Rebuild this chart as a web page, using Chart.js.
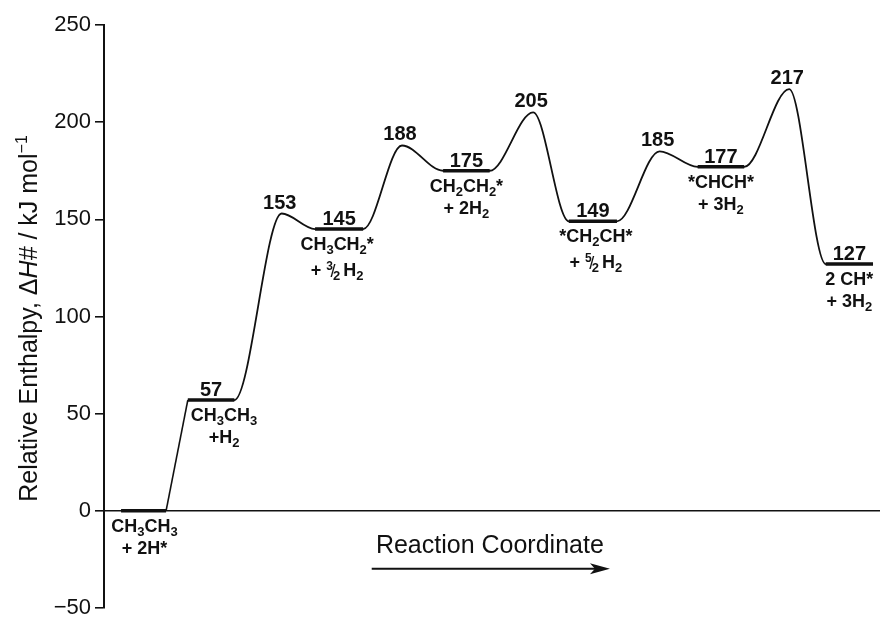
<!DOCTYPE html>
<html>
<head>
<meta charset="utf-8">
<title>Ethane dehydrogenation enthalpy profile</title>
<script src="https://cdn.jsdelivr.net/npm/chart.js@4.4.1/dist/chart.umd.min.js"></script>
<style>
  html, body { margin: 0; padding: 0; background: #fff; }
  #wrap { width: 881px; height: 617px; }
</style>
</head>
<body>
<div id="wrap"><canvas id="profile" width="881" height="617"></canvas></div>
<script>
// Intermediates (relative enthalpy, kJ/mol) and where they sit on the reaction coordinate
const levelValues = [0, 57, 145, 175, 149, 177, 127];
const levelStart  = [2.2, 10.8, 27.2, 43.7, 59.9, 76.5, 93.0];
const levelEnd    = [8.0, 16.8, 33.4, 49.7, 66.1, 82.5, 99.1];
// The reference state carries no number above its level
const levelShowValue = [false, true, true, true, true, true, true];

// Transition states between consecutive intermediates (from level 1 onward)
const barrierValues = [153, 188, 205, 185, 217];
const barrierPos    = [22.9, 38.4, 55.3, 71.6, 88.3];

// Species labels under each level ("_x" subscript, "^x" superscript, "~" fraction slash)
const speciesLine1 = ['CH_3CH_3', 'CH_3CH_3', 'CH_3CH_2*', 'CH_2CH_2*', '*CH_2CH*', '*CHCH*', '2 CH*'];
const speciesLine2 = ['+ 2H*', '+H_2', '+ ^3~_2 H_2', '+ 2H_2', '+ ^5~_2 H_2', '+ 3H_2', '+ 3H_2'];

// Axis range
const yMin = -50, yMax = 250, yStep = 50;
const xMin = 0, xMax = 100;

const FONT = '"Liberation Sans", Arial, Helvetica, sans-serif';
const INK = '#111';
const labelShift = [1, 13, -2, 0, 3, 0, 0]; // horizontal nudge of species labels (px)

// Plateau segments, separated by gaps
const plateauData = [];
levelValues.forEach((v, i) => {
  plateauData.push({ x: levelStart[i], y: v }, { x: levelEnd[i], y: v }, { x: levelEnd[i], y: null });
});

// Direct step from level 0 to level 1
const directData = [
  { x: levelEnd[0], y: levelValues[0] },
  { x: levelStart[1], y: levelValues[1] }
];

// Smooth path through the remaining levels and barriers
const pathData = [
  { x: levelStart[1], y: levelValues[1] },
  { x: levelEnd[1], y: levelValues[1] }
];
barrierValues.forEach((b, i) => {
  pathData.push({ x: barrierPos[i], y: b });
  pathData.push({ x: levelStart[i + 2], y: levelValues[i + 2] });
  pathData.push({ x: levelEnd[i + 2], y: levelValues[i + 2] });
});

function parseRuns(str) {
  const runs = [];
  let buf = '';
  const flush = () => { if (buf) { runs.push({ t: buf, k: 'n' }); buf = ''; } };
  for (let i = 0; i < str.length; i++) {
    const c = str[i];
    if (c === '_' || c === '^') {
      flush();
      runs.push({ t: str[i + 1], k: c === '_' ? 'sub' : 'sup' });
      i++;
    } else if (c === '~') {
      flush();
      runs.push({ t: '/', k: 'slash' });
    } else {
      buf += c;
    }
  }
  flush();
  return runs;
}

function runFont(k, size) {
  if (k === 'n') return 'bold ' + size + 'px ' + FONT;
  if (k === 'slash') return size + 'px ' + FONT;
  if (k === 'sup') return 'bold ' + Math.round(size * 0.64) + 'px ' + FONT;
  return 'bold ' + Math.round(size * 0.7) + 'px ' + FONT;
}

function drawRuns(ctx, str, cx, baseline, size) {
  const runs = parseRuns(str);
  let total = 0;
  runs.forEach((r, j) => {
    ctx.font = runFont(r.k, size);
    r.w = ctx.measureText(r.t).width;
    if (r.k === 'slash') r.w -= 5;
    if (r.k === 'n' && runs[j - 1] && runs[j - 1].k === 'sub' && r.t[0] === ' ') r.w -= 2;
    total += r.w;
  });
  let x = cx - total / 2;
  runs.forEach((r, j) => {
    ctx.font = runFont(r.k, size);
    let dy = 0;
    if (r.k === 'sub') dy = 4;
    if (r.k === 'sup') dy = -6;
    if (r.k === 'slash') ctx.fillText(r.t, x - 2.5, baseline + 1);
    else if (r.k === 'n' && runs[j - 1] && runs[j - 1].k === 'sub' && r.t[0] === ' ') {
      ctx.fillText(r.t.slice(1), x + ctx.measureText(' ').width - 2, baseline);
    } else ctx.fillText(r.t, x, baseline + dy);
    x += r.w;
  });
}

const annotations = {
  id: 'annotations',
  afterDatasetsDraw(chart) {
    const ctx = chart.ctx;
    const xs = chart.scales.x, ys = chart.scales.y;
    const area = chart.chartArea;
    ctx.save();
    ctx.fillStyle = INK;
    ctx.textBaseline = 'alphabetic';
    ctx.textAlign = 'left';

    // Level values and species
    levelValues.forEach((v, i) => {
      const cx = (xs.getPixelForValue(levelStart[i]) + xs.getPixelForValue(levelEnd[i])) / 2;
      const py = ys.getPixelForValue(v);
      if (levelShowValue[i]) {
        ctx.font = 'bold 20px ' + FONT;
        ctx.textAlign = 'center';
        ctx.fillText(String(v), cx, py - 4);
        ctx.textAlign = 'left';
      }
      const lx = cx + labelShift[i];
      drawRuns(ctx, speciesLine1[i], lx, py + 21, 18);
      const gap = speciesLine2[i].indexOf('~') >= 0 ? 26 : 22;
      drawRuns(ctx, speciesLine2[i], lx, py + 21 + gap, 18);
    });

    // Barrier values
    ctx.font = 'bold 20px ' + FONT;
    ctx.textAlign = 'center';
    barrierValues.forEach((b, i) => {
      ctx.fillText(String(b), xs.getPixelForValue(barrierPos[i]) - 2, ys.getPixelForValue(b) - 5);
    });

    // Reaction coordinate caption with arrow
    const y0 = ys.getPixelForValue(0);
    const ax0 = area.left + 0.345 * (area.right - area.left);
    const ax1 = area.left + 0.652 * (area.right - area.left);
    ctx.font = '25px ' + FONT;
    ctx.fillText('Reaction Coordinate', (ax0 + ax1) / 2 - 1, y0 + 42);
    const ay = y0 + 58;
    ctx.strokeStyle = INK;
    ctx.lineWidth = 2;
    ctx.beginPath();
    ctx.moveTo(ax0, ay);
    ctx.lineTo(ax1 - 14, ay);
    ctx.stroke();
    ctx.beginPath();
    ctx.moveTo(ax1, ay);
    ctx.lineTo(ax1 - 20, ay - 5.5);
    ctx.lineTo(ax1 - 15, ay);
    ctx.lineTo(ax1 - 20, ay + 5.5);
    ctx.closePath();
    ctx.fill();

    // Y axis title
    const cy = (area.top + area.bottom) / 2 + 2;
    ctx.translate(37, cy);
    ctx.rotate(-Math.PI / 2);
    ctx.textAlign = 'left';
    const parts = [
      { t: 'Relative Enthalpy, \u0394', f: '25px ' + FONT, dy: 0 },
      { t: 'H#', f: 'italic 25px ' + FONT, dy: 0 },
      { t: ' / kJ mol', f: '25px ' + FONT, dy: 0 },
      { t: '\u22121', f: '16px ' + FONT, dy: -10 }
    ];
    let tw = 0;
    parts.forEach(p => { ctx.font = p.f; p.w = ctx.measureText(p.t).width; tw += p.w; });
    let tx = -tw / 2;
    parts.forEach(p => { ctx.font = p.f; ctx.fillText(p.t, tx, p.dy); tx += p.w; });
    ctx.restore();
  }
};

new Chart(document.getElementById('profile'), {
  type: 'line',
  data: {
    datasets: [
      { data: plateauData, borderColor: INK, borderWidth: 3.5, pointRadius: 0, tension: 0, spanGaps: false, borderCapStyle: 'butt' },
      { data: directData, borderColor: INK, borderWidth: 1.6, pointRadius: 0, tension: 0 },
      { data: pathData, borderColor: INK, borderWidth: 1.8, pointRadius: 0, cubicInterpolationMode: 'monotone' }
    ]
  },
  options: {
    responsive: false,
    animation: false,
    layout: { padding: { top: 25, right: 1, bottom: 9, left: 0 } },
    plugins: { legend: { display: false }, tooltip: { enabled: false } },
    scales: {
      x: { type: 'linear', min: xMin, max: xMax, display: false },
      y: {
        type: 'linear', min: yMin, max: yMax,
        ticks: {
          stepSize: yStep, color: INK, padding: 4,
          font: { family: FONT, size: 22 },
          callback: v => v < 0 ? '\u2212' + Math.abs(v) : String(v)
        },
        grid: {
          drawOnChartArea: true,
          color: c => (c.tick && c.tick.value === 0) ? INK : 'rgba(0,0,0,0)',
          lineWidth: 1.6, tickColor: INK, tickLength: 9, tickWidth: 1.6
        },
        border: { display: true, color: INK, width: 2 },
        afterFit: s => { s.width = 104; s.paddingTop = 0; s.paddingBottom = 0; }
      }
    }
  },
  plugins: [annotations]
});
</script>
</body>
</html>
